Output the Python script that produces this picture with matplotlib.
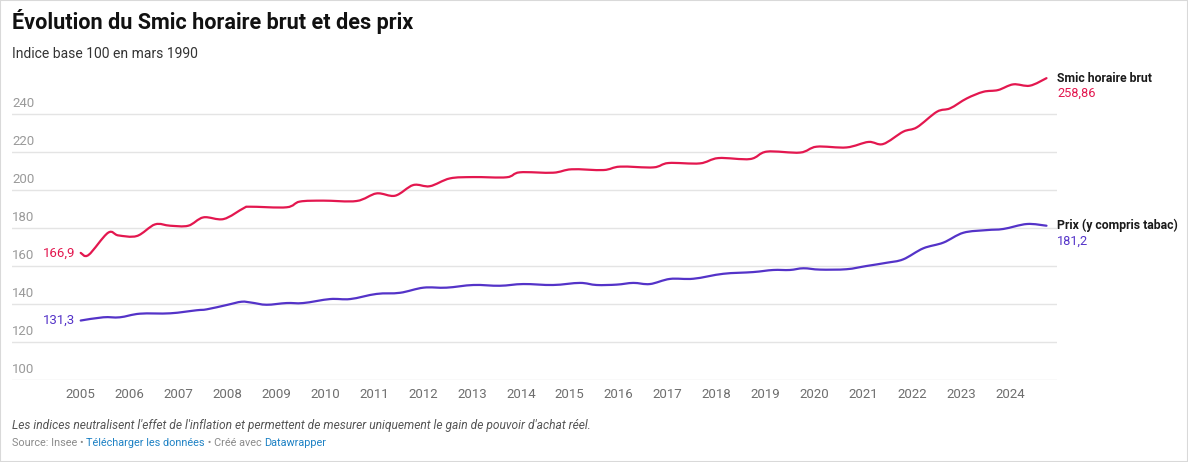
import matplotlib
matplotlib.use("Agg")
import matplotlib.pyplot as plt
from matplotlib.patches import Rectangle, PathPatch
from matplotlib.path import Path

plt.rcParams['font.family'] = ['Roboto', 'DejaVu Sans']

# dates en années décimales
smic_dates = [2005.00, 2005.16, 2005.56, 2005.77, 2006.15, 2006.52, 2006.83, 2007.20, 2007.51,
              2007.92, 2008.33, 2008.46, 2009.21, 2009.48, 2009.96, 2010.64, 2011.05, 2011.43,
              2011.80, 2012.14, 2012.55, 2013.03, 2013.71, 2013.98, 2014.66, 2015.04, 2015.69,
              2016.03, 2016.71, 2017.02, 2017.66, 2018.04, 2018.69, 2019.03, 2019.71, 2020.05,
              2020.66, 2021.11, 2021.41, 2021.82, 2022.10, 2022.51, 2022.78, 2023.12, 2023.46,
              2023.76, 2024.07, 2024.41, 2024.75]
smic_values = [166.9, 165.8, 177.5, 176.1, 175.8, 181.9, 181.2, 181.2, 185.6,
               184.7, 190.4, 191.2, 190.9, 193.9, 194.4, 194.2, 198.2, 197.0,
               202.6, 202.0, 206.1, 206.8, 206.7, 209.3, 209.1, 210.9, 210.5,
               212.3, 211.9, 214.2, 214.0, 216.8, 216.3, 220.2, 219.7, 222.8,
               222.4, 225.3, 224.2, 230.7, 233.0, 241.2, 243.0, 248.2, 251.7,
               252.6, 255.6, 254.9, 258.86]

prix_dates = [2005.00, 2005.46, 2005.80, 2006.21, 2006.83, 2007.37, 2007.58, 2007.99, 2008.29,
              2008.50, 2008.80, 2009.21, 2009.55, 2010.10, 2010.51, 2011.05, 2011.53, 2012.01,
              2012.48, 2013.03, 2013.57, 2014.05, 2014.66, 2015.21, 2015.55, 2015.96, 2016.30,
              2016.64, 2017.05, 2017.53, 2018.14, 2018.75, 2019.16, 2019.50, 2019.78, 2020.12,
              2020.66, 2021.07, 2021.48, 2021.82, 2022.23, 2022.64, 2023.05, 2023.53, 2023.87,
              2024.35, 2024.75]
prix_values = [131.3, 133.0, 133.0, 134.9, 135.1, 136.7, 137.2, 139.5, 141.2,
               140.7, 139.6, 140.5, 140.5, 142.6, 142.6, 145.3, 145.9, 148.6,
               148.6, 150.0, 149.6, 150.5, 150.0, 151.1, 150.0, 150.2, 151.1,
               150.5, 153.2, 153.3, 155.9, 156.8, 157.9, 157.9, 158.8, 158.1,
               158.3, 160.0, 161.7, 163.5, 169.3, 172.3, 177.5, 178.9, 179.5,
               182.1, 181.2]

years = list(range(2005, 2025))
y_ticks = [100, 120, 140, 160, 180, 200, 220, 240]

RED = '#e3174f'
BLUE = '#5433c8'


def curved_path(xs, ys):
    # courbe lissée (Catmull-Rom rendue en Bézier), comme la ligne "curved" de Datawrapper
    verts = [(xs[0], ys[0])]
    codes = [Path.MOVETO]
    n = len(xs)
    for i in range(n - 1):
        x0, y0 = (xs[i - 1], ys[i - 1]) if i > 0 else (xs[i], ys[i])
        x1, y1 = xs[i], ys[i]
        x2, y2 = xs[i + 1], ys[i + 1]
        x3, y3 = (xs[i + 2], ys[i + 2]) if i + 2 < n else (x2, y2)
        c1 = (x1 + (x2 - x0) / 6, y1 + (y2 - y0) / 6)
        c2 = (x2 - (x3 - x1) / 6, y2 - (y3 - y1) / 6)
        verts += [c1, c2, (x2, y2)]
        codes += [Path.CURVE4] * 3
    return Path(verts, codes)


W, H = 1188, 462
fig = plt.figure(figsize=(W / 100, H / 100), dpi=100)
fig.patch.set_facecolor('white')
fig.patches.append(Rectangle((0, 0), 1, 1, transform=fig.transFigure, fill=False,
                             edgecolor='#d9d9d9', linewidth=1.5))

# zone de tracé en pixels
left, right, top, bottom = 12, 1057, 66.5, 380
ax = fig.add_axes([left / W, 1 - bottom / H, (right - left) / W, (bottom - top) / H])
ax.set_xlim(2003.595, 2024.965)
ax.set_ylim(100, 265)
for s in ax.spines.values():
    s.set_visible(False)
ax.set_xticks([])
ax.set_yticks([])

for v in y_ticks:
    ax.axhline(v, color='#e4e4e4', linewidth=1, zorder=0)
    ax.annotate(str(v), xy=(0, v), xycoords=('axes fraction', 'data'),
                xytext=(0, 3), textcoords='offset points',
                ha='left', va='bottom', fontsize=9.5, color='#9a9a9a')

for yr in years:
    ax.annotate(str(yr), xy=(yr, 0), xycoords=('data', 'axes fraction'),
                xytext=(0, -6), textcoords='offset points',
                ha='center', va='top', fontsize=9.5, color='#6e6e6e')

for xs, ys, col in [(smic_dates, smic_values, RED), (prix_dates, prix_values, BLUE)]:
    ax.add_patch(PathPatch(curved_path(xs, ys), facecolor='none', edgecolor=col,
                           linewidth=1.6, joinstyle='round', capstyle='round', clip_on=False))

# étiquettes de début
ax.annotate('166,9', xy=(smic_dates[0], smic_values[0]), xytext=(-4, 0),
            textcoords='offset points', ha='right', va='center', fontsize=9.5, color=RED)
ax.annotate('131,3', xy=(prix_dates[0], prix_values[0]), xytext=(-4, 0),
            textcoords='offset points', ha='right', va='center', fontsize=9.5, color=BLUE)

# étiquettes de fin
ax.annotate('Smic horaire brut', xy=(1, smic_values[-1]), xycoords=('axes fraction', 'data'),
            xytext=(0, 0), textcoords='offset points', ha='left', va='center',
            fontsize=8.8, fontweight='bold', color='#1a1a1a')
ax.annotate('258,86', xy=(1, smic_values[-1]), xycoords=('axes fraction', 'data'),
            xytext=(0, -11), textcoords='offset points', ha='left', va='center',
            fontsize=9.2, color=RED)
ax.annotate('Prix (y compris tabac)', xy=(1, prix_values[-1]), xycoords=('axes fraction', 'data'),
            xytext=(0, 0), textcoords='offset points', ha='left', va='center',
            fontsize=8.8, fontweight='bold', color='#1a1a1a')
ax.annotate('181,2', xy=(1, prix_values[-1]), xycoords=('axes fraction', 'data'),
            xytext=(0, -11), textcoords='offset points', ha='left', va='center',
            fontsize=9.2, color=BLUE)

# titre et sous-titre
fig.text(12 / W, 1 - 22 / H, 'Évolution du Smic horaire brut et des prix', ha='left',
         va='center', fontsize=15.6, fontweight='bold', color='#111111')
fig.text(12 / W, 1 - 54 / H, 'Indice base 100 en mars 1990', ha='left', va='center',
         fontsize=10, color='#333333')

# notes et source
fig.text(12 / W, 1 - 425 / H, "Les indices neutralisent l'effet de l'inflation et permettent "
         "de mesurer uniquement le gain de pouvoir d'achat réel.", ha='left', va='center',
         fontsize=8.65, fontstyle='italic', color='#555555')

renderer = fig.canvas.get_renderer()
parts = [('Source: Insee • ', '#8a8a8a'), ('Télécharger les données', '#1d81c4'),
         (' • Créé avec ', '#8a8a8a'), ('Datawrapper', '#1d81c4')]
x = 12
for txt, col in parts:
    t = fig.text(x / W, 1 - 443 / H, txt, ha='left', va='center', fontsize=7.85, color=col)
    x += t.get_window_extent(renderer).width

fig.savefig('out.png', dpi=100, facecolor='white')
